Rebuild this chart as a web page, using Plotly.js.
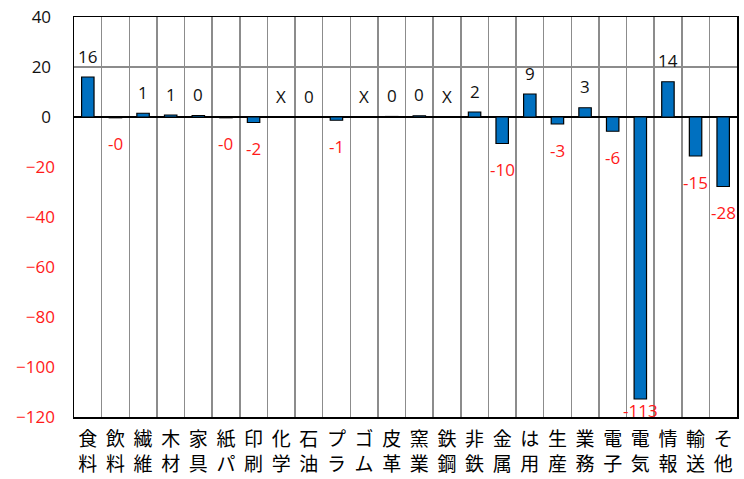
<!DOCTYPE html>
<html><head><meta charset="utf-8">
<script src="https://cdn.plot.ly/plotly-3.0.1.min.js"></script>
<style>html,body{margin:0;padding:0;background:#fff}#c{width:744px;height:479px}</style>
</head><body><div id="c"></div>
<script>
const categories = ["食料","飲料","繊維","木材","家具","紙パ","印刷","化学","石油","プラ","ゴム","皮革","窯業","鉄鋼","非鉄","金属","はん用","生産","業務","電子","電気","情報","輸送","その他"];
const tickLabels = ["食<br>料","飲<br>料","繊<br>維","木<br>材","家<br>具","紙<br>パ","印<br>刷","化<br>学","石<br>油","プ<br>ラ","ゴ<br>ム","皮<br>革","窯<br>業","鉄<br>鋼","非<br>鉄","金<br>属","は<br>用","生<br>産","業<br>務","電<br>子","電<br>気","情<br>報","輸<br>送","そ<br>他"];
const values = [16, -0.3, 1.5, 0.8, 0.6, -0.3, -2.2, null, 0, -1.3, null, 0.2, 0.5, null, 2.0, -10.6, 9.2, -2.8, 3.7, -5.7, -112.8, 14.1, -15.6, -27.8];
const valueLabels = ["16","-0","1","1","0","-0","-2","X","0","-1","X","0","0","X","2","-10","9","-3","3","-6","-113","14","-15","-28"];
const posTicks = [40, 20, 0];
const negTicks = [-20, -40, -60, -80, -100, -120];

const font = "'Open Sans', 'Noto Sans', sans-serif";
const red = "#ff1a1a";
const yRange = [-120, 40];
const pxPerUnit = 400 / 160;

const annotations = categories.map((c, i) => {
  const v = values[i] == null ? 0 : values[i];
  const neg = valueLabels[i].startsWith("-");
  // keep labels of very long negative bars inside the plot (as the reference does)
  const shift = neg ? Math.max(-26, (yRange[0] + 2.8 - v) * pxPerUnit) : 21;
  return {
    x: c, y: v, xref: "x", yref: "y",
    text: valueLabels[i], showarrow: false,
    yanchor: "middle", xanchor: "center",
    yshift: shift,
    font: {family: font, size: 17, color: neg ? red : "#111"}
  };
});

const trace = {
  type: "bar", x: categories, y: values, width: 0.45,
  marker: {color: "#0070c0", line: {color: "#000", width: 1.2}},
  hoverinfo: "none"
};

const layout = {
  width: 744, height: 479,
  margin: {l: 74, r: 7, t: 17, b: 62},
  paper_bgcolor: "#fff", plot_bgcolor: "#fff",
  showlegend: false,
  font: {family: font},
  xaxis: {
    type: "category", tickson: "boundaries",
    tickvals: categories, ticktext: tickLabels,
    tickangle: 0, ticks: "", ticklabelstandoff: 5,
    tickfont: {family: "'Noto Sans CJK JP', sans-serif", size: 19, color: "#000"},
    showgrid: true, gridcolor: "#8c8c8c", gridwidth: 1.5,
    showline: true, linecolor: "#000", linewidth: 1.5, mirror: true,
    range: [-0.5, 23.5]
  },
  yaxis: {
    range: yRange, tickvals: posTicks,
    ticks: "", ticklabelstandoff: 18,
    tickfont: {family: font, size: 17, color: "#111"},
    showgrid: true, gridcolor: "#8c8c8c", gridwidth: 1.5,
    zeroline: true, zerolinecolor: "#000", zerolinewidth: 1.5,
    showline: true, linecolor: "#000", linewidth: 1.5, mirror: true
  },
  yaxis2: {
    overlaying: "y", side: "left", range: yRange, tickvals: negTicks,
    ticks: "", ticklabelstandoff: 18,
    tickfont: {family: font, size: 17, color: red},
    showgrid: false, zeroline: false, showline: false
  },
  annotations: annotations
};

const axisTrace = {type: "scatter", x: [categories[0]], y: [null], yaxis: "y2", hoverinfo: "none", showlegend: false};

Plotly.newPlot("c", [trace, axisTrace], layout, {displayModeBar: false, staticPlot: true});
</script></body></html>
